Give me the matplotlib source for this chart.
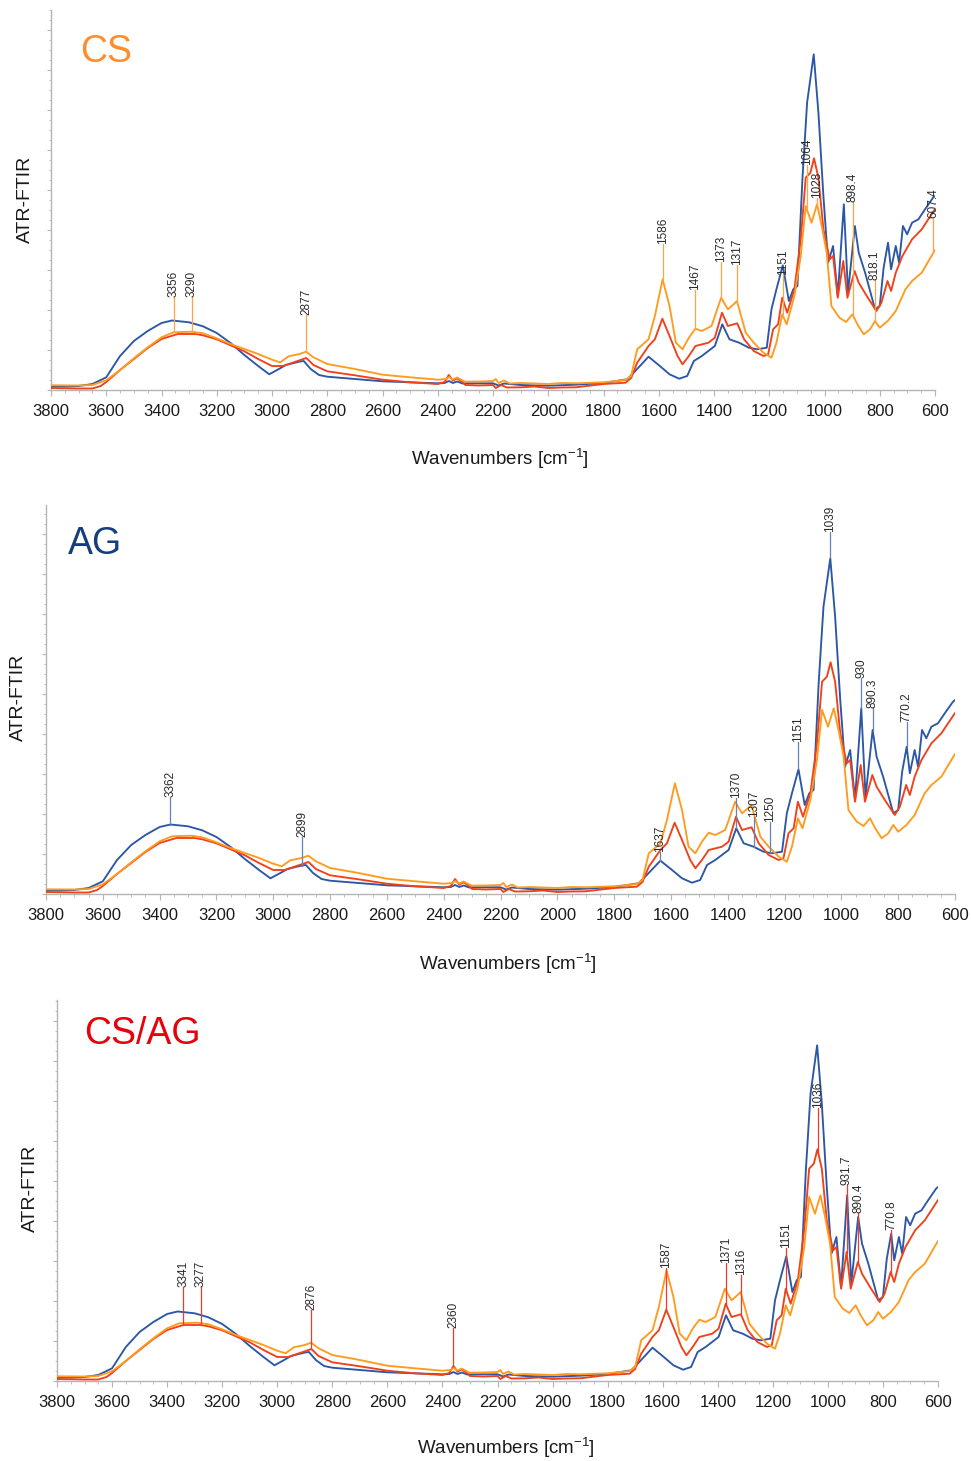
import numpy as np
import matplotlib
matplotlib.use('Agg')
import matplotlib.pyplot as plt
from matplotlib.ticker import MultipleLocator

plt.rcParams['font.family'] = ['Liberation Sans', 'DejaVu Sans']
plt.rcParams['mathtext.fontset'] = 'custom'
plt.rcParams['mathtext.rm'] = 'Liberation Sans'
plt.rcParams['mathtext.it'] = 'Liberation Sans:italic'

# ---------------- data (absorbance, arbitrary units) ----------------
cs_wn = [3800, 3700, 3650, 3600, 3550, 3500, 3450, 3400, 3356, 3290, 3250, 3200, 3150, 3100,
         3050, 3000, 2970, 2940, 2900, 2877, 2850, 2800, 2700, 2600, 2500, 2400, 2370, 2360,
         2345, 2330, 2310, 2300, 2250, 2200, 2190, 2180, 2160, 2140, 2100, 2050, 2000, 1950,
         1900, 1800, 1720, 1700, 1678, 1637, 1614, 1586, 1561, 1538, 1514, 1491, 1467, 1444,
         1409, 1374, 1350, 1329, 1317, 1285, 1256, 1221, 1192, 1174, 1153, 1137, 1109, 1086,
         1068, 1047, 1027, 1010, 992, 975, 946, 922, 899, 881, 858, 835, 817, 800, 771, 742,
         707, 683, 648, 607, 600]
cs_abs = [4.7, 4.5, 5, 9.7, 20, 31.7, 42.7, 52.7, 57.7, 58.3, 56.7, 51.7, 46, 41,
          36, 30.3, 27.7, 33.7, 36, 38.3, 32.7, 26, 21, 15.3, 12.7, 10.3, 11, 13,
          10.5, 12.5, 9.5, 8.3, 8.5, 9, 11, 7, 9.5, 6.5, 7, 6.5, 6, 7,
          6.7, 7.7, 10, 14, 40.7, 50.7, 74, 110.7, 84, 47.3, 40.7, 52.3, 61.3, 59,
          64, 92.3, 80.7, 85.7, 89, 57.3, 47.3, 37.3, 32.3, 47.3, 75.7, 65.7, 94, 134,
          184, 167.3, 185.7, 164, 137.3, 84, 72.3, 68, 75.7, 65.7, 55.7, 60.7, 69, 62.3, 69, 79,
          100.7, 109, 117.3, 136.7, 140]

ag_wn = [3800, 3750, 3700, 3650, 3600, 3550, 3500, 3450, 3400, 3362, 3300, 3250, 3200, 3150,
         3100, 3050, 3010, 2975, 2950, 2899, 2885, 2860, 2830, 2800, 2700, 2600, 2500, 2400,
         2375, 2360, 2345, 2330, 2310, 2300, 2200, 2180, 2160, 2100, 2000, 1900, 1800, 1714,
         1685, 1637, 1596, 1561, 1526, 1497, 1473, 1444, 1397, 1370, 1344, 1309, 1274, 1244,
         1209, 1192, 1174, 1151, 1129, 1113, 1098, 1080, 1063, 1039, 1022, 1004, 987, 969,
         952, 930, 915, 890, 876, 853, 817, 800, 786, 770, 759, 742, 730, 716, 701, 683,
         660, 636, 607, 600]
ag_abs = [3.7, 3.5, 4, 6, 12.7, 34, 49, 59, 67, 69.5, 67.7, 63.7, 57, 47,
          35, 24, 15.7, 21, 25, 28.5, 29, 21, 15, 13.3, 11, 8.7, 7.7, 6.7,
          7, 9, 7, 8.5, 6.5, 6.7, 6.7, 4.5, 6.5, 5, 4.3, 5.3, 7, 10.7,
          19, 33.3, 24, 15.7, 11.3, 14, 29, 34, 44, 65.7, 50.7, 47.3, 42.3, 40.7,
          42.3, 80.7, 100.7, 124.7, 89, 100.7, 104, 210.7, 287.3, 335.7, 277.3, 194, 127.3, 144,
          94, 185.7, 97.3, 164, 137.3, 117.3, 80.7, 84, 122.3, 147.3, 120.7, 144, 127.3, 164, 155.7, 167.3,
          170.7, 180.7, 192.3, 194]

csag_wn = [3800, 3700, 3650, 3620, 3600, 3550, 3500, 3450, 3400, 3341, 3277, 3250, 3200, 3150,
           3100, 3050, 3000, 2960, 2900, 2876, 2850, 2800, 2700, 2600, 2500, 2400, 2375, 2360,
           2345, 2330, 2310, 2300, 2250, 2200, 2190, 2170, 2150, 2100, 2050, 2000, 1950, 1900,
           1800, 1720, 1700, 1678, 1637, 1614, 1587, 1561, 1532, 1514, 1491, 1467, 1420, 1397,
           1371, 1350, 1316, 1291, 1256, 1221, 1204, 1186, 1168, 1153, 1135, 1109, 1086, 1068,
           1051, 1038, 1022, 1004, 981, 969, 952, 932, 917, 891, 876, 847, 812, 794, 772, 759,
           742, 718, 683, 648, 607, 600]
csag_abs = [2, 1.5, 1.5, 4, 8, 20, 31, 42, 51, 56, 56, 54.7, 50.7, 44.7,
            38.7, 31, 24, 24, 29.7, 32, 25, 18.7, 14.7, 10.3, 7.7, 6, 8, 15,
            9.3, 11.7, 7.7, 5, 4.5, 5, 2, 5, 2.5, 2.7, 3.5, 2, 2.5, 2.7,
            6, 7.3, 12, 27.3, 44, 50.7, 71.3, 54, 34, 25.7, 34, 44, 47.3, 52.3,
            77.3, 64, 66.7, 50.7, 39, 34, 35.7, 60.7, 65.7, 92.3, 77.3, 100.7, 150.7, 212.3,
            217.3, 231.7, 212.3, 160.7, 130.7, 134, 92.3, 129, 92.3, 119, 107.3, 94, 79, 87.3, 109, 99,
            117.3, 134, 150.7, 160.7, 178, 181]

# peak annotations: labels and the height of the label foot
cs_peaks = ['3356', '3290', '2877', '1586', '1467', '1373', '1317', '1151', '1064', '1028',
            '898.4', '818.1', '607.4']
cs_peak_tops = [93, 93, 75, 146, 100, 128, 125, 115, 225, 192, 188, 110, 172]
ag_peaks = ['3362', '2899', '1637', '1370', '1307', '1250', '1151', '1039', '930', '890.3', '770.2']
ag_peak_tops = [97, 57, 42, 96, 77, 72, 152, 362, 216, 186, 172]
csag_peaks = ['3341', '3277', '2876', '2360', '1587', '1371', '1316', '1151', '1036', '931.7',
              '890.4', '770.8']
csag_peak_tops = [94, 94, 71, 53, 113, 118, 106, 133, 273, 196, 168, 151]

x_ticks = [3800, 3600, 3400, 3200, 3000, 2800, 2600, 2400, 2200, 2000, 1800, 1600, 1400, 1200,
           1000, 800, 600]

# ---------------- styles ----------------
C_BLUE = '#2B57A6'
C_RED = '#F0411A'
C_ORANGE = '#FF9B1E'

W, H = 971, 1461
fig = plt.figure(figsize=(W / 100, H / 100), dpi=100)

# (left, right, top, bottom) pixels
panels = [
    dict(box=(51, 935, 10, 390), title='CS', tcol='#FF8D2E', tpos=(80, 62),
         peaks=cs_peaks, tops=cs_peak_tops, ref=(cs_wn, cs_abs), acol='#FFA545',
         ylab=(25, 199), xlab=(500, 459)),
    dict(box=(46, 955, 505, 894), title='AG', tcol='#173E7C', tpos=(68, 554),
         peaks=ag_peaks, tops=ag_peak_tops, ref=(ag_wn, ag_abs), acol='#6783B5',
         ylab=(18, 697), xlab=(508, 964)),
    dict(box=(57, 938, 1000, 1381), title='CS/AG', tcol='#E8000B', tpos=(84, 1044),
         peaks=csag_peaks, tops=csag_peak_tops, ref=(csag_wn, csag_abs), acol='#F03A2A',
         ylab=(30, 1188), xlab=(506, 1448)),
]

for p in panels:
    l, r, t, b = p['box']
    ax = fig.add_axes([l / W, 1 - b / H, (r - l) / W, (b - t) / H])
    ax.set_xlim(3800, 600)
    ax.set_ylim(0, b - t)
    kw = dict(lw=1.35, solid_joinstyle='round', solid_capstyle='round')
    ax.plot(ag_wn, ag_abs, color=C_BLUE, zorder=3, **kw)
    ax.plot(csag_wn, csag_abs, color=C_RED, zorder=4, **kw)
    ax.plot(cs_wn, cs_abs, color=C_ORANGE, zorder=5, **kw)

    rw, ra = p['ref']
    xw = np.array(rw[::-1], dtype=float)
    ya = np.array(ra[::-1], dtype=float)
    for lab, top in zip(p['peaks'], p['tops']):
        wn = float(lab)
        yb = np.interp(wn, xw, ya)
        ax.plot([wn, wn], [yb, top], color=p['acol'], lw=0.9, zorder=6)
        ax.text(wn, top, lab, rotation=90, ha='center', va='bottom', fontsize=8.5,
                color='#2a2a2a', zorder=7, clip_on=False)

    for s in ['top', 'right']:
        ax.spines[s].set_visible(False)
    for s in ['left', 'bottom']:
        ax.spines[s].set_color('#b5b5b5')
        ax.spines[s].set_linewidth(1.0)
    ax.set_xticks(x_ticks)
    ax.set_xticklabels([str(v) for v in x_ticks])
    ax.xaxis.set_minor_locator(MultipleLocator(50))
    ax.yaxis.set_major_locator(MultipleLocator(40))
    ax.yaxis.set_minor_locator(MultipleLocator(10))
    ax.set_yticklabels([])
    ax.tick_params(axis='x', which='major', length=4, color='#b5b5b5', labelsize=12,
                   pad=6, labelcolor='#1a1a1a')
    ax.tick_params(axis='x', which='minor', length=2.5, color='#b5b5b5')
    ax.tick_params(axis='y', which='major', length=3, color='#b5b5b5')
    ax.tick_params(axis='y', which='minor', length=1.5, color='#b5b5b5')

    tx, ty = p['tpos']
    fig.text(tx / W, 1 - ty / H, p['title'], color=p['tcol'], fontsize=27,
             ha='left', va='baseline')
    yx, yy = p['ylab']
    fig.text(yx / W, 1 - yy / H, 'ATR-FTIR', rotation=90, ha='center', va='center',
             fontsize=14, color='#1a1a1a')
    xx, xy = p['xlab']
    fig.text(xx / W, 1 - xy / H, 'Wavenumbers [cm$^{-1}$]', ha='center', va='center',
             fontsize=13.5, color='#1a1a1a')

fig.savefig('out.png', dpi=100)
